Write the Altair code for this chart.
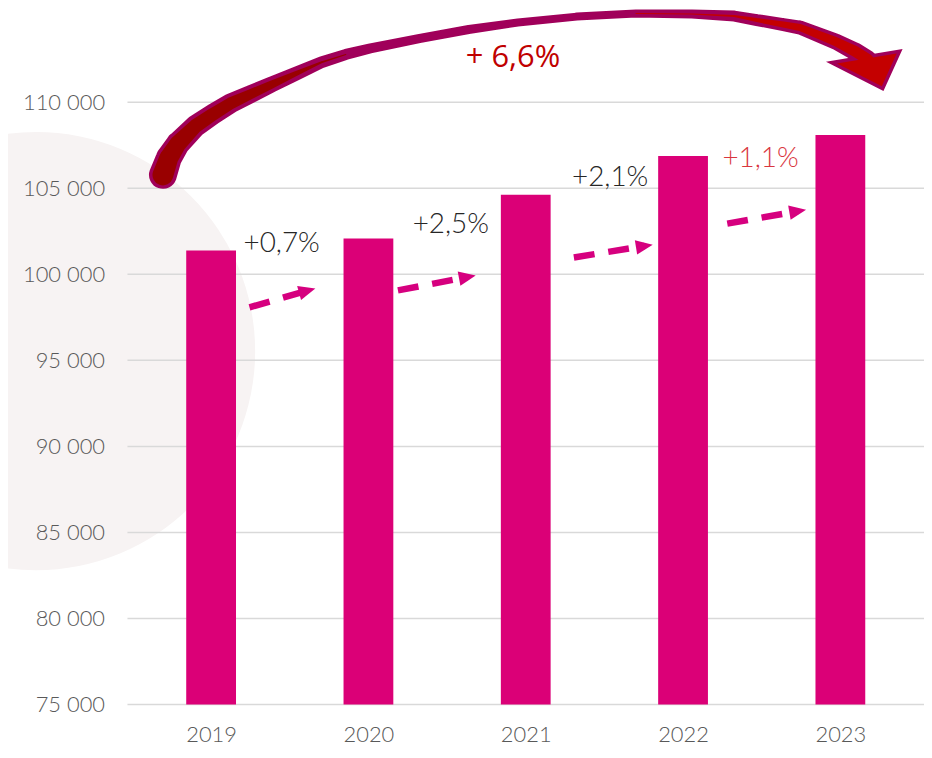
import altair as alt
import pandas as pd

# ---- data -------------------------------------------------------------
years = [2019, 2020, 2021, 2022, 2023]
values = [101380, 102075, 104620, 106875, 108090]
y_ticks = [75000, 80000, 85000, 90000, 95000, 100000, 105000, 110000]

growth_text = ["+0,7%", "+2,5%", "+2,1%", "+1,1%"]
growth_x = [2019.206, 2020.281, 2021.294, 2022.25]
growth_y = [101785, 102884, 105603, 106702]
growth_color = ["#262626", "#262626", "#262626", "#d9363e"]

dash_id = ["a1", "a1", "a2", "a2", "a3", "a3", "a4", "a4"]
dash_x = [2019.244, 2019.611, 2020.1875, 2020.629, 2021.306, 2021.754, 2022.281, 2022.729]
dash_y = [98083, 99049, 99066, 99841, 100975, 101646, 102942, 103665]
head_x = [2019.611, 2020.629, 2021.754, 2022.729]
head_y = [99049, 99841, 101646, 103665]
head_angle = [344.2, 349.3, 350.8, 350.1]

# big curved "+6,6%" arrow (centre line)
big_x = [2018.69375, 2018.73125, 2018.7875, 2018.9, 2019.0125, 2019.125, 2019.25,
         2019.3875, 2019.54375, 2019.7, 2019.85625, 2020.0125, 2020.325, 2020.6375,
         2020.95, 2021.325, 2021.7, 2022.05625, 2022.325, 2022.46875, 2022.6375,
         2022.74375, 2022.85625, 2022.96875, 2023.09375, 2023.175]
big_y = [105777, 106760, 107570, 108611, 109306, 109942, 110463, 111041, 111678,
         112314, 112777, 113124, 113702, 114223, 114628, 114975, 115149, 115120,
         115004, 114773, 114512, 114339, 113934, 113529, 112950, 112487]
big_outer_w = [28, 26, 24, 22, 21, 20, 18, 16, 14, 12, 11, 10, 9, 9, 8, 8, 8, 9,
               11, 12, 13, 14, 15, 16, 18, 18]
big_inner_w = [21, 19, 17, 14, 13, 12, 10, 8, 5, 2, 0, 0, 0, 0, 0, 0, 0, 0,
               2, 4, 6, 7, 8, 9, 11, 11]

big_head_x = [2023.2]
big_head_y = [112008]
big_label = ["+ 6,6%"]
big_label_x = [2020.91875]
big_label_y = [112545]

bg_x = [2017.8875]
bg_y = [95537]

# ---- tables -----------------------------------------------------------
bars_df = pd.DataFrame({"x": years, "y": values})
grid_df = pd.DataFrame({"y": y_ticks})
growth_df = pd.DataFrame({"x": growth_x, "y": growth_y, "t": growth_text, "c": growth_color})
dash_df = pd.DataFrame({"id": dash_id, "x": dash_x, "y": dash_y,
                        "i": list(range(len(dash_x)))})
head_df = pd.DataFrame({"x": head_x, "y": head_y, "a": head_angle})
big_df = pd.DataFrame({"x": big_x, "y": big_y, "w": big_outer_w, "wi": big_inner_w,
                       "i": list(range(len(big_x)))})
inner_df = pd.concat([
    big_df.iloc[0:11].assign(seg="L"),
    big_df.iloc[16:26].assign(seg="R"),
])
bighead_df = pd.DataFrame({"x": big_head_x, "y": big_head_y})
biglabel_df = pd.DataFrame({"x": big_label_x, "y": big_label_y, "t": big_label})
bg_df = pd.DataFrame({"x": bg_x, "y": bg_y})

xs = alt.Scale(domain=[2018.5, 2023.5], nice=False, zero=False)
ys = alt.Scale(domain=[75000, 110000], nice=False, zero=False)

LABEL_FONT = "Lato"
x_axis = alt.Axis(values=years, format="d", title=None, grid=False,
                  ticks=False, tickSize=0, domain=False, zindex=1,
                  labelFont=LABEL_FONT, labelFontWeight=300,
                  labelFontSize=22, labelColor="#595959", labelPadding=20)
y_axis = alt.Axis(values=y_ticks, title=None, grid=False,
                  ticks=False, tickSize=0, domain=False, zindex=1,
                  labelFont=LABEL_FONT, labelFontWeight=300,
                  labelFontSize=22, labelColor="#595959", labelPadding=23,
                  labelExpr="replace(format(datum.value, ',d'), ',', ' ')")


def X():
    return alt.X("x:Q", scale=xs, axis=x_axis)


def Y():
    return alt.Y("y:Q", scale=ys, axis=y_axis)


bg = alt.Chart(bg_df).mark_point(shape="circle", filled=True, color="#f7f3f3",
                                 size=193600, opacity=1).encode(x=X(), y=Y())

grid = alt.Chart(grid_df).mark_rule(color="#d9d9d9", strokeWidth=1.5).encode(
    y=Y(), x=alt.value(0), x2=alt.value(800))

bars = alt.Chart(bars_df).mark_bar(color="#db0077", size=50).encode(
    x=X(), y=Y(), y2=alt.datum(75000))

dashes = alt.Chart(dash_df).mark_line(color="#d6007f", strokeWidth=6.5,
                                      strokeDash=[21, 14]).encode(
    x=X(), y=Y(), detail="id:N", order="i:Q")

heads = alt.Chart(head_df).mark_point(shape="M-1,-0.85L1,0L-1,0.85Z", filled=True,
                                      color="#d6007f", size=289, opacity=1).encode(
    x=X(), y=Y(), angle=alt.Angle("a:Q", scale=None))

growth = alt.Chart(growth_df).mark_text(font=LABEL_FONT, fontWeight=300, fontSize=28,
                                        align="left", baseline="middle").encode(
    x=X(), y=Y(), text="t:N", color=alt.Color("c:N", scale=None))

outer = alt.Chart(big_df).mark_trail(color="#a0005a").encode(
    x=X(), y=Y(), size=alt.Size("w:Q", scale=None), order="i:Q")

HEAD_PATH = "M-0.972,-0.119L0.694,-0.397L0.278,0.519Z"
bighead_outline = alt.Chart(bighead_df).mark_point(
    shape=HEAD_PATH, filled=True, fill="#a0005a", stroke="#a0005a", strokeWidth=7,
    size=5184, opacity=1).encode(x=X(), y=Y())

inner = alt.Chart(inner_df).mark_trail().encode(
    x=X(), y=Y(), size=alt.Size("wi:Q", scale=None), order="i:Q", detail="seg:N",
    color=alt.Color("seg:N", scale=alt.Scale(domain=["L", "R"], range=["#990000", "#c40000"]),
                    legend=None))

bighead_fill = alt.Chart(bighead_df).mark_point(
    shape=HEAD_PATH, filled=True, fill="#c40000", strokeWidth=0,
    size=5184, opacity=1).encode(x=X(), y=Y())

biglabel = alt.Chart(biglabel_df).mark_text(font="Open Sans", fontSize=31, color="#c00000",
                                            align="center", baseline="middle").encode(
    x=X(), y=Y(), text="t:N")

chart = alt.layer(bg, grid, bars, dashes, heads, growth, outer, bighead_outline, inner,
                  bighead_fill, biglabel).properties(
    width=800, height=605,
    autosize=alt.AutoSizeParams(type="none"),
    padding={"left": 120, "top": 93, "right": 0, "bottom": 45},
    background="white",
).configure_view(stroke=None)

chart.save("out.html", embed_options={"renderer": "svg", "actions": False})
